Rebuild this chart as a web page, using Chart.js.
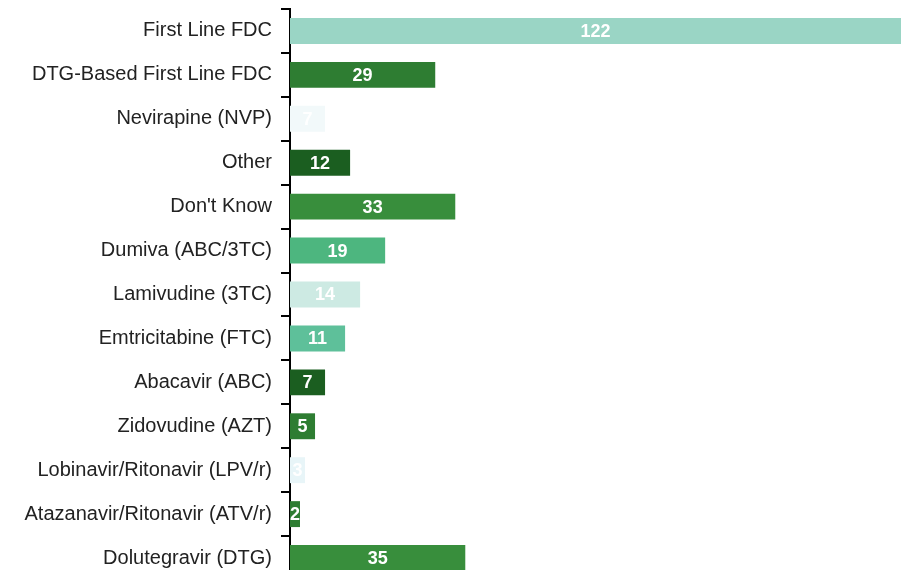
<!DOCTYPE html>
<html>
<head>
<meta charset="utf-8">
<script src="https://cdn.jsdelivr.net/npm/chart.js@4.4.1/dist/chart.umd.min.js"></script>
<style>
    html, body { margin: 0; padding: 0; background: #fff; overflow: hidden; }
    #wrap { position: relative; top: -10px; width: 901px; height: 609px; }
</style>
</head>
<body>
<div id="wrap"><canvas id="regimenChart"></canvas></div>
<script>
const categories = [
    'First Line FDC', 'DTG-Based First Line FDC', 'Nevirapine (NVP)', 'Other',
    "Don't Know", 'Dumiva (ABC/3TC)', 'Lamivudine (3TC)', 'Emtricitabine (FTC)',
    'Abacavir (ABC)', 'Zidovudine (AZT)', 'Lobinavir/Ritonavir (LPV/r)',
    'Atazanavir/Ritonavir (ATV/r)', 'Dolutegravir (DTG)'
];
const counts = [122, 29, 7, 12, 33, 19, 14, 11, 7, 5, 3, 2, 35];
const barColors = [
    '#9ad5c5', '#2e7d32', '#f2f9fa', '#1b5e20', '#388e3c', '#4db67f', '#cdeae3',
    '#5ec09a', '#1b5e20', '#2e7d32', '#e8f5f8', '#2e7d32', '#388e3c'
];

const barLabels = {
    id: 'barLabels',
    afterDatasetsDraw(chart) {
        const ctx = chart.ctx;
        const meta = chart.getDatasetMeta(0);
        ctx.save();
        ctx.font = 'bold 18px "Liberation Sans", Arial, sans-serif';
        ctx.fillStyle = '#fff';
        ctx.textAlign = 'center';
        ctx.textBaseline = 'middle';
        meta.data.forEach((bar, i) => {
            const x = (bar.x + bar.base) / 2;
            ctx.fillText(String(counts[i]), x, bar.y + 1);
        });
        ctx.restore();
    }
};

new Chart(document.getElementById('regimenChart'), {
    type: 'bar',
    data: {
        labels: categories,
        datasets: [{
            data: counts,
            backgroundColor: barColors,
            barPercentage: 0.59,
            categoryPercentage: 1
        }]
    },
    options: {
        indexAxis: 'y',
        responsive: true,
        maintainAspectRatio: false,
        animation: false,
        layout: { padding: { top: -2, right: 0, bottom: 10, left: 0 } },
        plugins: { legend: { display: false }, tooltip: { enabled: false } },
        scales: {
            x: { display: false, min: 0, max: 122 },
            y: {
                afterFit: scale => { scale.width = 290; },
                border: { color: '#000', width: 2 },
                grid: {
                    offset: true,
                    drawOnChartArea: false,
                    tickLength: 9,
                    color: '#000',
                    lineWidth: 2
                },
                ticks: {
                    color: '#222',
                    padding: 9,
                    font: { family: '"Liberation Sans", Arial, sans-serif', size: 20, lineHeight: 1 }
                }
            }
        }
    },
    plugins: [barLabels]
});
</script>
</body>
</html>
